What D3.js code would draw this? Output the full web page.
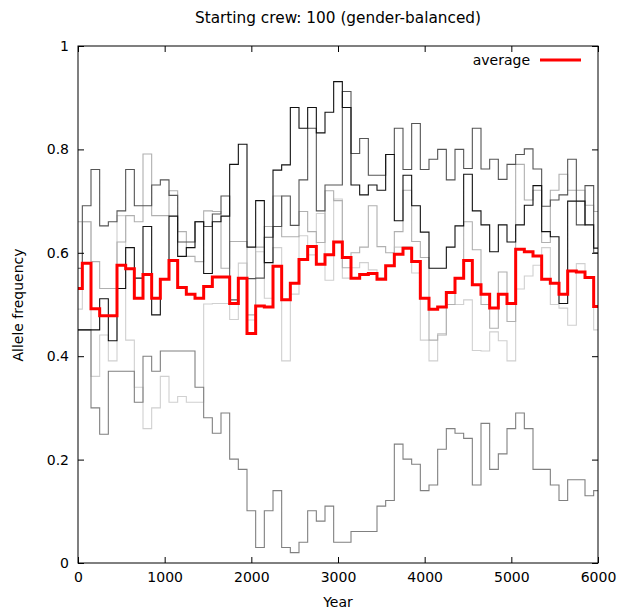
<!DOCTYPE html>
<html><head><meta charset="utf-8">
<script src="https://cdn.jsdelivr.net/npm/d3@7/dist/d3.min.js"></script>
<style>body{margin:0;background:#fff} text{font-family:"DejaVu Sans",sans-serif;fill:#000}</style>
</head><body><svg id="c" width="619" height="612"></svg>
<script>
const years = d3.range(0, 6001, 100);
const runA = [0.451,0.451,0.300,0.249,0.371,0.371,0.371,0.311,0.400,0.371,
  0.410,0.410,0.410,0.410,0.340,0.281,0.251,0.290,0.201,0.181,
  0.101,0.030,0.101,0.140,0.030,0.020,0.040,0.101,0.081,0.110,
  0.040,0.040,0.061,0.061,0.061,0.110,0.121,0.230,0.201,0.191,
  0.140,0.151,0.220,0.260,0.251,0.241,0.151,0.270,0.181,0.211,
  0.260,0.290,0.260,0.181,0.181,0.151,0.121,0.161,0.161,0.130,0.140];
const runB = [0.451,0.451,0.451,0.511,0.430,0.531,0.610,0.551,0.651,0.480,
  0.549,0.671,0.593,0.610,0.660,0.560,0.660,0.671,0.771,0.810,
  0.611,0.701,0.581,0.760,0.770,0.881,0.841,0.881,0.832,0.872,
  0.931,0.881,0.731,0.712,0.731,0.721,0.790,0.662,0.750,0.691,
  0.640,0.570,0.570,0.611,0.652,0.752,0.681,0.654,0.602,0.654,
  0.621,0.654,0.692,0.730,0.641,0.631,0.502,0.700,0.700,0.654,0.609];
const runC = [0.570,0.691,0.761,0.652,0.660,0.681,0.761,0.691,0.691,0.731,
  0.741,0.711,0.621,0.621,0.660,0.651,0.675,0.710,0.509,0.551,
  0.550,0.551,0.630,0.651,0.710,0.653,0.741,0.841,0.681,0.731,
  0.731,0.912,0.792,0.821,0.750,0.750,0.790,0.841,0.761,0.850,
  0.761,0.781,0.800,0.741,0.800,0.763,0.841,0.762,0.781,0.742,
  0.771,0.790,0.801,0.762,0.690,0.702,0.712,0.781,0.654,0.730,0.600];
const runD = [0.660,0.660,0.583,0.531,0.531,0.621,0.672,0.660,0.791,0.672,
  0.672,0.720,0.641,0.593,0.583,0.681,0.680,0.570,0.622,0.622,
  0.480,0.611,0.651,0.710,0.631,0.631,0.680,0.641,0.620,0.720,
  0.701,0.571,0.600,0.611,0.691,0.612,0.600,0.641,0.721,0.622,
  0.591,0.431,0.441,0.500,0.550,0.660,0.606,0.500,0.454,0.563,
  0.467,0.771,0.702,0.721,0.620,0.721,0.752,0.721,0.721,0.692,0.680];
const runE = [0.491,0.660,0.361,0.441,0.391,0.672,0.431,0.340,0.260,0.300,
  0.361,0.311,0.322,0.311,0.311,0.501,0.502,0.502,0.471,0.580,
  0.470,0.602,0.512,0.610,0.391,0.520,0.633,0.596,0.676,0.547,
  0.704,0.551,0.571,0.581,0.567,0.552,0.574,0.611,0.612,0.561,
  0.431,0.391,0.444,0.500,0.500,0.509,0.411,0.410,0.447,0.430,
  0.391,0.530,0.555,0.576,0.610,0.500,0.493,0.460,0.579,0.554,0.451];
const average = [0.531,0.580,0.492,0.478,0.478,0.576,0.569,0.512,0.558,0.512,
  0.549,0.585,0.533,0.520,0.512,0.535,0.553,0.553,0.502,0.551,
  0.444,0.497,0.495,0.574,0.509,0.541,0.587,0.612,0.578,0.596,
  0.621,0.591,0.551,0.558,0.560,0.549,0.575,0.597,0.609,0.583,
  0.512,0.491,0.495,0.523,0.551,0.585,0.538,0.520,0.493,0.520,
  0.502,0.607,0.602,0.594,0.549,0.541,0.520,0.565,0.563,0.552,0.496];
const runs = [runE, runD, runA, runC, runB];
const runColors = ["#d0d0d0", "#b0b0b0", "#808080", "#555555", "#111111"];
const xTicks = [0,1000,2000,3000,4000,5000,6000];
const yTicks = [0,0.2,0.4,0.6,0.8,1];
const yTickLabels = ["0","0.2","0.4","0.6","0.8","1"];
const title = "Starting crew: 100 (gender-balanced)";

const svg = d3.select("#c");
const L=78, R=598, T=46, B=563;
const x = d3.scaleLinear().domain([0,6000]).range([L,R]);
const y = d3.scaleLinear().domain([0,1]).range([B,T]);
const line = d3.line().x((d,i)=>x(years[i])).y(d=>y(d)).curve(d3.curveStep);

const g = svg.append("g");
runs.forEach((r,k)=>{
  g.append("path").attr("d", line(r)).attr("fill","none")
   .attr("stroke", runColors[k]).attr("stroke-width",1.1);
});
g.append("path").attr("d", line(average)).attr("fill","none")
 .attr("stroke","#ff0000").attr("stroke-width",3);

const fmtY = d => yTickLabels[yTicks.indexOf(d)];
const ax = (sel)=>{sel.select(".domain").remove(); sel.selectAll("line").attr("stroke","#000"); sel.selectAll("text").style("font-size","14px").style("font-family","DejaVu Sans, sans-serif");};
svg.append("g").attr("transform",`translate(${L},0)`)
  .call(d3.axisLeft(y).tickValues(yTicks).tickSize(-6).tickPadding(9).tickFormat(fmtY)).call(ax);
svg.append("g").attr("transform",`translate(${R},0)`)
  .call(d3.axisRight(y).tickValues(yTicks).tickSize(-6).tickFormat("")).call(ax);
svg.append("g").attr("transform",`translate(0,${B})`)
  .call(d3.axisBottom(x).tickValues(xTicks).tickSize(-6).tickPadding(9).tickFormat(d3.format("d"))).call(ax);
svg.append("g").attr("transform",`translate(0,${T})`)
  .call(d3.axisTop(x).tickValues(xTicks).tickSize(-6).tickFormat("")).call(ax);
svg.append("rect").attr("x",L).attr("y",T).attr("width",R-L).attr("height",B-T)
  .attr("fill","none").attr("stroke","#000").attr("stroke-width",1);

svg.append("text").attr("x",338).attr("y",23).attr("text-anchor","middle").style("font-size","15.3px").text(title);
svg.append("text").attr("x",338).attr("y",607).attr("text-anchor","middle").style("font-size","14px").text("Year");
svg.append("text").attr("transform","translate(23,305) rotate(-90)").attr("text-anchor","middle").style("font-size","14px").text("Allele frequency");
svg.append("text").attr("x",530).attr("y",65).attr("text-anchor","end").style("font-size","14px").text("average");
svg.append("line").attr("x1",540).attr("x2",581).attr("y1",60).attr("y2",60).attr("stroke","#ff0000").attr("stroke-width",3);
</script></body></html>
